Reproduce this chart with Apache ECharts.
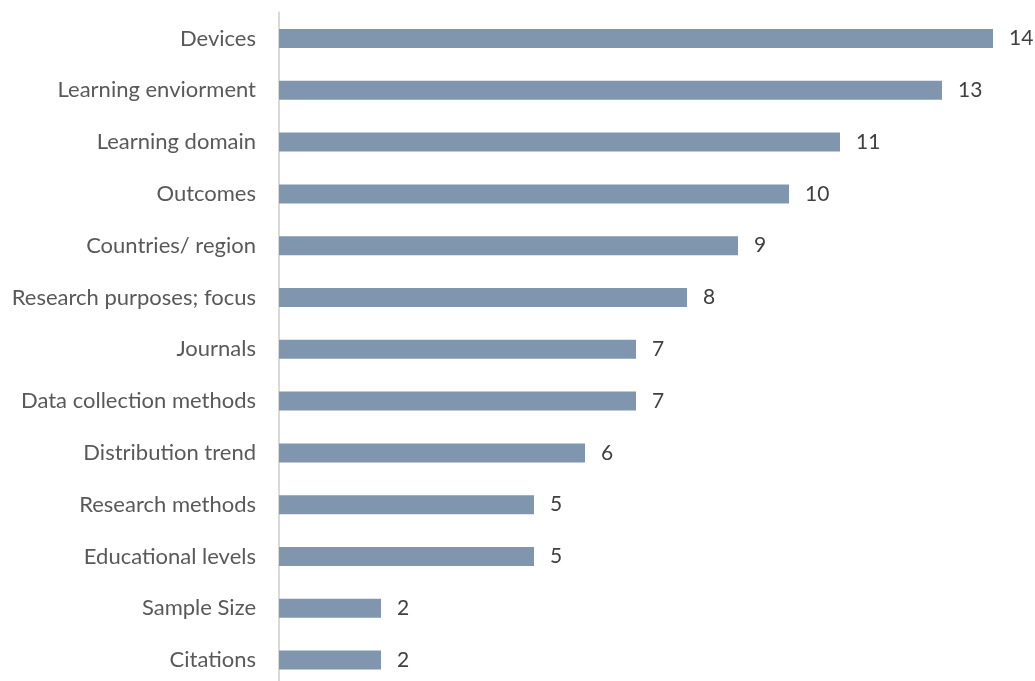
<!DOCTYPE html>
<html>
<head>
<meta charset="utf-8">
<script src="https://cdn.jsdelivr.net/npm/echarts@6/dist/echarts.min.js"></script>
<style>
  html, body { margin: 0; padding: 0; background: #fff; overflow: hidden; }
  /* the plot runs slightly past the bottom edge of the window */
  #chart { width: 1035px; height: 700px; }
</style>
</head>
<body>
<div id="chart"></div>
<script>
// Topics covered in the reviewed studies and how many studies address each
const categories = [
  'Devices',
  'Learning enviorment',
  'Learning domain',
  'Outcomes',
  'Countries/ region',
  'Research purposes; focus',
  'Journals',
  'Data collection methods',
  'Distribution trend',
  'Research methods',
  'Educational levels',
  'Sample Size',
  'Citations'
];
const counts = [14, 13, 11, 10, 9, 8, 7, 7, 6, 5, 5, 2, 2];

const FONT = 'Lato, "Open Sans", sans-serif';

const chart = echarts.init(document.getElementById('chart'), null, { renderer: 'canvas' });
chart.setOption({
  animation: false,
  backgroundColor: '#ffffff',
  grid: { left: 279, top: 12.6, width: 714, height: 673.4, containLabel: false },
  xAxis: {
    type: 'value',
    min: 0,
    max: 14,
    show: false
  },
  yAxis: {
    type: 'category',
    data: categories,
    inverse: true,
    axisLine: { show: true, lineStyle: { color: '#d9d9d9', width: 2 } },
    axisTick: { show: false },
    axisLabel: { color: '#595959', fontSize: 22, fontFamily: FONT, margin: 23 },
    splitLine: { show: false }
  },
  series: [{
    type: 'bar',
    data: counts,
    barWidth: 19,
    itemStyle: { color: '#7f96ae' },
    label: {
      show: true,
      position: 'right',
      distance: 16,
      color: '#404040',
      fontSize: 21,
      fontFamily: FONT
    }
  }]
});
</script>
</body>
</html>
